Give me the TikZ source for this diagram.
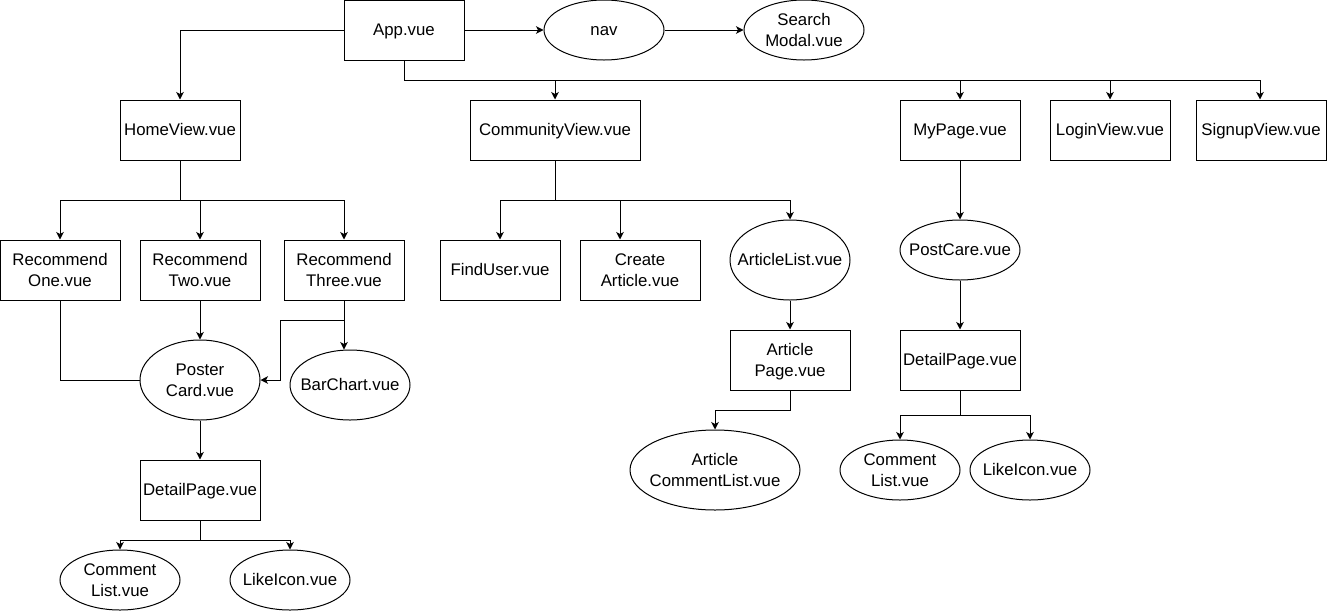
\documentclass[tikz,border=0pt]{standalone}
\usepackage{fontspec}
\setmainfont{Liberation Sans}
\usetikzlibrary{shapes.geometric,arrows.meta}
\newcommand{\lbx}[1]{\raisebox{-1.8pt}[\height][\depth]{\makebox[0pt]{\begin{tabular}{@{}c@{}}#1\end{tabular}}}}
\begin{document}
\begin{tikzpicture}[x=1pt,y=-1pt,
  font=\fontsize{16.8}{20.7}\selectfont,
  line width=1pt,
  box/.style={draw, rectangle, inner sep=0pt, minimum width=120pt, minimum height=60pt},
  ell/.style={draw, ellipse, inner sep=0pt, minimum width=120pt, minimum height=60pt},
  arr/.style={-{Stealth[length=7.5pt,width=7.5pt,inset=2pt]}}
]
\useasboundingbox (0,0) rectangle (1328,611);
% top row
\node[box] (app) at (404,30) {\lbx{App.vue}};
\node[ell] (nav) at (604,30) {\lbx{nav}};
\node[ell] (search) at (804,30) {\lbx{Search\\Modal.vue}};
% second row
\node[box] (home) at (180,130) {\lbx{HomeView.vue}};
\node[box, minimum width=170pt] (comm) at (555,130) {\lbx{CommunityView.vue}};
\node[box] (my) at (960,130) {\lbx{MyPage.vue}};
\node[box] (login) at (1110,130) {\lbx{LoginView.vue}};
\node[box, minimum width=130pt] (signup) at (1261,130) {\lbx{SignupView.vue}};
% home branch
\node[box] (r1) at (60,270) {\lbx{Recommend\\One.vue}};
\node[box] (r2) at (200,270) {\lbx{Recommend\\Two.vue}};
\node[box] (r3) at (344,270) {\lbx{Recommend\\Three.vue}};
\node[ell, minimum height=80pt] (poster) at (200,380) {\lbx{Poster\\Card.vue}};
\node[ell, minimum height=70pt] (bar) at (350,385) {\lbx{BarChart.vue}};
\node[box] (dp1) at (200,490) {\lbx{DetailPage.vue}};
\node[ell] (cl1) at (120,580) {\lbx{Comment\\List.vue}};
\node[ell] (li1) at (290,580) {\lbx{LikeIcon.vue}};
% community branch
\node[box] (fu) at (500,270) {\lbx{FindUser.vue}};
\node[box] (ca) at (640,270) {\lbx{Create\\Article.vue}};
\node[ell, minimum height=80pt] (al) at (790,260) {\lbx{ArticleList.vue}};
\node[box] (ap) at (790,360) {\lbx{Article\\Page.vue}};
\node[ell, minimum width=170pt, minimum height=80pt] (acl) at (715,470) {\lbx{Article\\CommentList.vue}};
% mypage branch
\node[ell] (pc) at (960,250) {\lbx{PostCare.vue}};
\node[box] (dp2) at (960,360) {\lbx{DetailPage.vue}};
\node[ell] (cl2) at (900,470) {\lbx{Comment\\List.vue}};
\node[ell] (li2) at (1030,470) {\lbx{LikeIcon.vue}};

% connectors: top
\draw[arr] (app.west) -| (home.north);
\draw[arr] (app.east) -- (nav.west);
\draw[arr] (nav.east) -- (search.west);
\draw[arr] (app.south) -- ++(0,20) -| (comm.north);
\draw[arr] (app.south) -- ++(0,20) -| (my.north);
\draw[arr] (app.south) -- ++(0,20) -| (login.north);
\draw[arr] (app.south) -- ++(0,20) -| ([xshift=-1pt]signup.north);
% home
\draw[arr] (home.south) -- ++(0,40) -| (r1.north);
\draw[arr] (home.south) -- ++(0,40) -| (r2.north);
\draw[arr] (home.south) -- ++(0,40) -| (r3.north);
\draw (r1.south) |- (poster.west);
\draw[arr] (r2.south) -- (poster.north);
\draw[arr] (r3.south) -- (r3.south |- bar.north);
\draw[arr] (r3.south) -- ++(0,20) -- ++(-64,0) |- (poster.east);
\draw[arr] (poster.south) -- (dp1.north);
\draw[arr] (dp1.south) -- ++(0,20) -| (cl1.north);
\draw[arr] (dp1.south) -- ++(0,20) -| (li1.north);
% community
\draw[arr] (comm.south) -- ++(0,40) -| (fu.north);
\draw[arr] (comm.south) -- ++(0,40) -| ([xshift=-20pt]ca.north);
\draw[arr] (comm.south) -- ++(0,40) -| (al.north);
\draw[arr] (al.south) -- (ap.north);
\draw[arr] (ap.south) -- ++(0,20) -| (acl.north);
% mypage
\draw[arr] (my.south) -- (pc.north);
\draw[arr] (pc.south) -- (dp2.north);
\draw[arr] (dp2.south) -- ++(0,25) -| (cl2.north);
\draw[arr] (dp2.south) -- ++(0,25) -| (li2.north);
\end{tikzpicture}
\end{document}
